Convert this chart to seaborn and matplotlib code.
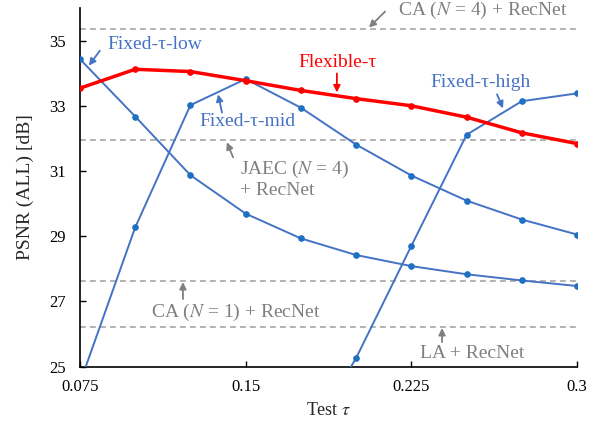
import matplotlib
matplotlib.use("Agg")
import matplotlib.pyplot as plt
import seaborn as sns
import pandas as pd

# ---- data ----
tau = [0.075, 0.1, 0.125, 0.15, 0.175, 0.2, 0.225, 0.25, 0.275, 0.3]
flexible = [33.54, 34.12, 34.05, 33.77, 33.47, 33.22, 33.00, 32.65, 32.17, 31.84]
fixed_low = [34.43, 32.67, 30.87, 29.69, 28.93, 28.42, 28.08, 27.83, 27.64, 27.47]
fixed_mid = [24.5, 29.27, 33.02, 33.82, 32.94, 31.81, 30.86, 30.09, 29.51, 29.05]
tau_high = [0.175, 0.2, 0.225, 0.25, 0.275, 0.3]
fixed_high = [22.4, 25.26, 28.70, 32.11, 33.14, 33.38]

baseline_names = ["CA4", "JAEC4", "CA1", "LA"]
baseline_vals = [35.37, 31.96, 27.62, 26.22]

xticks = [0.075, 0.15, 0.225, 0.3]
yticks = [25, 27, 29, 31, 33, 35]

sns.set_theme(style="white")
plt.rcParams["font.family"] = ["Liberation Serif", "DejaVu Serif"]
plt.rcParams["mathtext.fontset"] = "stix"

fig = plt.figure(figsize=(5.98, 4.23), dpi=100)
ax = fig.add_axes([80/598, 1-366.5/423, 497/598, (366.5-8)/423])

BLUE = "#4472C4"
MBLUE = "#1F6FC5"
RED = "#FF0000"
GRAY = "#A6A6A6"
TGRAY = "#7F7F7F"

for v in baseline_vals:
    ax.axhline(v, color=GRAY, lw=1.2, ls=(0, (3.5, 2.5)), zorder=1)

df_blue = pd.concat([
    pd.DataFrame({"tau": tau, "psnr": fixed_low, "s": "low"}),
    pd.DataFrame({"tau": tau, "psnr": fixed_mid, "s": "mid"}),
    pd.DataFrame({"tau": tau_high, "psnr": fixed_high, "s": "high"}),
])
for name, g in df_blue.groupby("s", sort=False):
    sns.lineplot(data=g, x="tau", y="psnr", ax=ax, color=BLUE, lw=1.4,
                 marker="o", markersize=4, markerfacecolor=MBLUE,
                 markeredgecolor=MBLUE, zorder=3, legend=False)

df_red = pd.DataFrame({"tau": tau, "psnr": flexible})
sns.lineplot(data=df_red, x="tau", y="psnr", ax=ax, color=RED, lw=2.5,
             marker="o", markersize=4, markeredgecolor=RED, zorder=4,
             legend=False)

ax.set_xlim(0.075, 0.3)
ax.set_ylim(25, 36)
ax.set_xticks(xticks)
ax.set_xticklabels(["0.075", "0.15", "0.225", "0.3"])
ax.set_yticks(yticks)
ax.tick_params(direction="in", length=4, width=1, labelsize=12, colors="black")
ax.tick_params(axis="y", left=True, pad=10)
ax.tick_params(axis="x", bottom=True, pad=9)
for s in ["top", "right"]:
    ax.spines[s].set_visible(False)
for s in ["left", "bottom"]:
    ax.spines[s].set_color("black")
    ax.spines[s].set_linewidth(1.2)

ax.set_xlabel(r"Test $\tau$", fontsize=13, labelpad=5)
ax.set_ylabel("PSNR (ALL) [dB]", fontsize=14, labelpad=11)

fs = 14

def ann(text, xy, xytext, color, tx, ty, ha="center"):
    ax.annotate("", xy=xy, xytext=xytext,
                arrowprops=dict(arrowstyle="-|>", color=color, lw=1.3,
                                mutation_scale=10, shrinkA=0, shrinkB=0),
                annotation_clip=False)
    ax.text(tx, ty, text, color=color, fontsize=fs, ha=ha, va="center",
            clip_on=False)

ann("Fixed-τ-low", (0.079, 34.23), (0.084, 34.69), BLUE, 0.109, 34.88)
ann("Flexible-τ", (0.1913, 33.41), (0.1913, 33.99), RED, 0.1918, 34.33)
ann("Fixed-τ-mid", (0.1375, 33.35), (0.1393, 32.79), BLUE, 0.1506, 32.52)
ann("Fixed-τ-high", (0.2665, 32.92), (0.2638, 33.35), BLUE, 0.2561, 33.71)
ann(r"CA ($N$ = 4) + RecNet", (0.2058, 35.40), (0.2131, 35.89), TGRAY, 0.2574, 35.92)
ann("JAEC ($N$ = 4)\n+ RecNet", (0.1415, 31.88), (0.1443, 31.42), TGRAY, 0.1474, 30.76, ha="left")
ann(r"CA ($N$ = 1) + RecNet", (0.1216, 27.59), (0.1216, 27.07), TGRAY, 0.1456, 26.67)
ann("LA + RecNet", (0.2389, 26.18), (0.2389, 25.75), TGRAY, 0.2525, 25.41)

fig.savefig("out.png", dpi=100)
